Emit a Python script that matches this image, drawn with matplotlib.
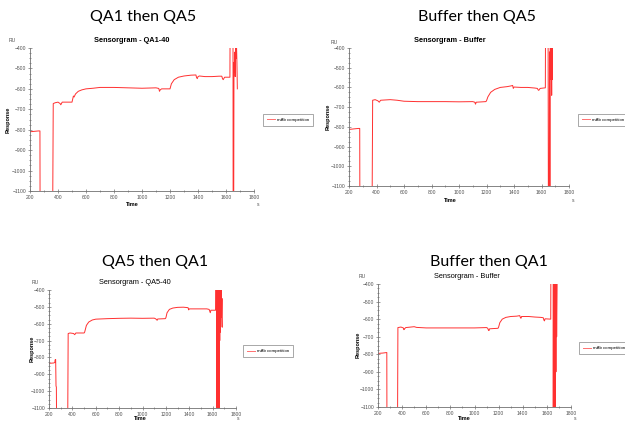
import matplotlib
matplotlib.use("Agg")
import matplotlib.pyplot as plt
from matplotlib.ticker import MultipleLocator

W, H = 625, 422

# ---- data (time s, response RU) ----
t_qa1 = [200, 230, 260, 271, 272, 362, 366, 380, 400, 415, 420, 430, 500, 505, 510,
         515, 525, 545, 570, 600, 650, 700, 800, 900, 1000, 1050, 1100, 1120, 1125,
         1130, 1140, 1195, 1200, 1210, 1230, 1260, 1300, 1350, 1385, 1390, 1395, 1400,
         1410, 1450, 1500, 1550, 1570, 1575, 1580, 1590, 1628, 1629, 1650, 1651, 1655,
         1657, 1660, 1663, 1666, 1669, 1672, 1675, 1678, 1681]
r_qa1 = [-810, -808, -806, -806, -1200, -1200, -672, -668, -665, -672, -678, -665, -665,
         -650, -635, -640, -625, -612, -605, -600, -597, -593, -593, -595, -597, -596,
         -595, -598, -612, -605, -600, -600, -600, -575, -555, -543, -537, -533, -532,
         -545, -550, -540, -537, -540, -540, -538, -538, -550, -555, -543, -543, -350,
         -350, -1200, -1200, -470, -520, -420, -540, -380, -450, -380, -470, -600]

t_buf5 = [200, 240, 270, 278, 279, 368, 372, 390, 410, 420, 430, 500, 550, 600, 700,
          800, 900, 1000, 1100, 1115, 1120, 1125, 1195, 1200, 1210, 1230, 1260, 1300,
          1350, 1380, 1390, 1395, 1400, 1450, 1500, 1550, 1570, 1575, 1580, 1590, 1628,
          1629, 1648, 1650, 1656, 1658, 1661, 1664, 1667, 1670, 1674, 1677, 1680]
r_buf5 = [-813, -810, -808, -808, -1200, -1200, -665, -662, -668, -675, -665, -662,
          -665, -670, -672, -672, -672, -673, -672, -675, -685, -675, -672, -668, -648,
          -625, -610, -600, -596, -592, -590, -605, -598, -600, -600, -603, -605, -612,
          -615, -605, -602, -350, -350, -1200, -1200, -420, -1200, -380, -560, -380,
          -640, -400, -560]

t_qa5 = [200, 240, 250, 252, 257, 260, 263, 265, 360, 364, 380, 410, 420, 430, 500,
         505, 520, 540, 570, 600, 700, 800, 900, 1000, 1100, 1110, 1120, 1125, 1130,
         1195, 1200, 1210, 1230, 1260, 1300, 1350, 1390, 1395, 1400, 1450, 1500, 1550,
         1570, 1575, 1580, 1585, 1625, 1626, 1636, 1637, 1639, 1641, 1643, 1645, 1647,
         1649, 1651, 1653, 1655, 1657, 1659, 1661, 1663, 1665, 1667, 1670, 1673, 1676,
         1680, 1684]
r_qa5 = [-835, -833, -830, -815, -812, -970, -975, -1200, -1200, -658, -655, -658, -665,
         -655, -655, -650, -610, -590, -578, -573, -570, -568, -567, -568, -567, -570,
         -575, -580, -572, -570, -565, -535, -515, -507, -503, -502, -505, -518, -512,
         -512, -512, -512, -515, -525, -535, -520, -520, -350, -350, -1200, -350, -1200,
         -350, -1200, -350, -1200, -350, -1200, -350, -1200, -350, -700, -350, -650, -350,
         -620, -380, -560, -450, -620]

t_buf1 = [200, 240, 273, 274, 362, 365, 390, 410, 415, 420, 430, 500, 520, 600, 800,
          1000, 1100, 1110, 1115, 1120, 1125, 1195, 1200, 1210, 1230, 1260, 1300, 1350,
          1375, 1380, 1385, 1390, 1450, 1500, 1550, 1570, 1575, 1580, 1585, 1632, 1633,
          1652, 1653, 1655, 1657, 1659, 1661, 1663, 1665, 1667, 1669, 1672, 1675, 1678,
          1681, 1685]
r_buf1 = [-795, -793, -790, -1200, -1200, -648, -645, -650, -660, -655, -648, -643,
          -647, -650, -650, -650, -648, -652, -662, -665, -655, -652, -645, -620, -600,
          -590, -585, -583, -580, -590, -595, -585, -585, -588, -590, -592, -605, -610,
          -598, -600, -350, -350, -1200, -350, -1200, -350, -1200, -350, -1200, -350,
          -1200, -350, -900, -380, -700, -400]

headers = ["QA1 then QA5", "Buffer then QA5", "QA5 then QA1", "Buffer then QA1"]
titles = ["Sensorgram - QA1-40", "Sensorgram - Buffer", "Sensorgram - QA5-40",
          "Sensorgram - Buffer"]
series = [(t_qa1, r_qa1), (t_buf5, r_buf5), (t_qa5, r_qa5), (t_buf1, r_buf1)]

# layout in pixels: axes (left, top, right, bottom), header, title, legend, labels
panels = [
    dict(ax=(30, 48, 254, 191), head=(143, 17), title=(132, 40), bold=True,
         leg=(263, 120), time=(132, 204), s=(258, 204), resp=(8, 120), ru=(12, 41)),
    dict(ax=(349, 48, 569, 186), head=(477, 17), title=(450, 40), bold=True,
         leg=(578, 120), time=(450, 200), s=(573, 200), resp=(328, 117), ru=(334, 42)),
    dict(ax=(49, 290, 236, 408), head=(155, 262), title=(135, 283), bold=False,
         leg=(243, 351), time=(140, 418), s=(238, 418), resp=(32, 349), ru=(35, 283)),
    dict(ax=(378, 284, 571, 407), head=(489, 262), title=(467, 277), bold=False,
         leg=(579, 348), time=(464, 418), s=(575, 418), resp=(358, 345), ru=(362, 277)),
]

red = "#ff3030"
plt.rcParams["font.family"] = ["Liberation Sans", "DejaVu Sans"]

fig = plt.figure(figsize=(W / 100, H / 100), dpi=100)


def fp(x, y):
    return x / W, 1 - y / H


for p, head, title, (t, r) in zip(panels, headers, titles, series):
    l, tp, rt, b = p["ax"]
    ax = fig.add_axes([l / W, 1 - b / H, (rt - l) / W, (b - tp) / H])
    ax.plot(t, r, color=red, lw=0.7, label="mAb competition")
    ax.set_xlim(200, 1800)
    ax.set_ylim(-1100, -400)
    ax.set_xticks(range(200, 1801, 200))
    ax.set_yticks(range(-1100, -399, 100))
    ax.xaxis.set_minor_locator(MultipleLocator(100))
    ax.yaxis.set_minor_locator(MultipleLocator(25))
    for side in ("top", "right"):
        ax.spines[side].set_visible(False)
    for side in ("left", "bottom"):
        ax.spines[side].set_color("#707070")
        ax.spines[side].set_linewidth(0.6)
    ax.tick_params(which="both", labelsize=3.6, colors="#505050", width=0.4,
                   direction="inout", pad=1.5)
    ax.tick_params(which="major", length=2.5)
    ax.tick_params(which="minor", length=1.2)

    fig.text(*fp(*p["head"]), head, family="Lato", fontsize=11.5,
             ha="center", va="center")
    fig.text(*fp(*p["title"]), title, fontsize=5.3, ha="center", va="center",
             weight="bold" if p["bold"] else "normal")
    fig.text(*fp(*p["time"]), "Time", fontsize=4, weight="bold",
             ha="center", va="center")
    fig.text(*fp(*p["s"]), "s", fontsize=3.6, ha="center", va="center", color="#505050")
    fig.text(*fp(*p["resp"]), "Response", fontsize=4, weight="bold", rotation=90,
             ha="center", va="center")
    fig.text(*fp(*p["ru"]), "RU", fontsize=3.6, ha="center", va="center", color="#505050")

    leg = ax.legend(loc="center left", bbox_to_anchor=fp(*p["leg"]),
                    bbox_transform=fig.transFigure, fontsize=3.2, frameon=True,
                    fancybox=False, handlelength=1.8, borderpad=0.9,
                    handletextpad=0.5, borderaxespad=0)
    leg.get_frame().set_edgecolor("#808080")
    leg.get_frame().set_linewidth(0.6)
    leg.get_lines()[0].set_color("#ff7070")

fig.savefig("out.png", dpi=100)
